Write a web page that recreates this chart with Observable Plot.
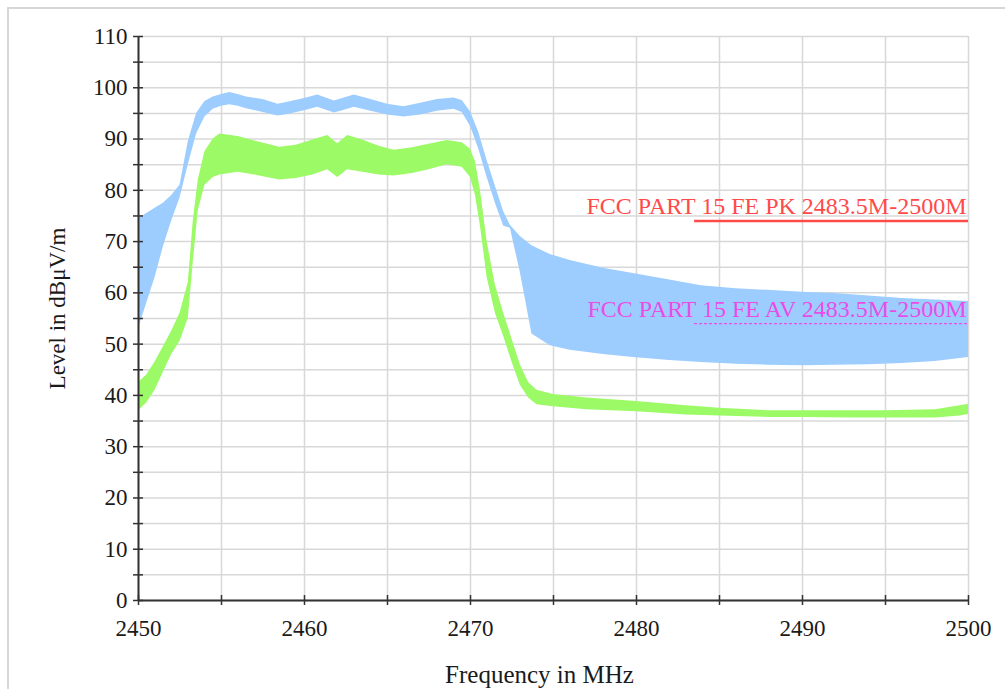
<!DOCTYPE html>
<html>
<head>
<meta charset="utf-8">
<script src="https://cdn.jsdelivr.net/npm/d3@7"></script>
<script src="https://cdn.jsdelivr.net/npm/@observablehq/plot@0.6"></script>
<style>
  html, body { margin: 0; padding: 0; background: #fff; }
  #wrap { position: relative; width: 1005px; height: 689px; overflow: hidden; }
  #frame { position: absolute; left: 7px; top: 7px; width: 1100px; height: 800px;
           border-left: 2px solid #d6d6d6; border-top: 2px solid #d6d6d6; }
  #chart { position: absolute; left: 0; top: 0; }
</style>
</head>
<body>
<div id="wrap"><div id="frame"></div><div id="chart"></div></div>
<script>
// ---- data ----
const xTitle = "Frequency in MHz";
const yTitle = "Level in dBμV/m";
const xTickLabels = [2450, 2460, 2470, 2480, 2490, 2500];
const xTickMarks = [2450, 2455, 2460, 2465, 2470, 2475, 2480, 2485, 2490, 2495, 2500];
const yTickLabels = [0, 10, 20, 30, 40, 50, 60, 70, 80, 90, 100, 110];
const yTickMarks = [0, 5, 10, 15, 20, 25, 30, 35, 40, 45, 50, 55, 60, 65, 70, 75, 80, 85, 90, 95, 100, 105, 110];

// Peak trace (blue) envelope
const pkFreq  = [2450, 2450.5, 2451, 2451.5, 2452, 2452.5, 2453, 2453.5, 2454, 2454.5, 2455, 2455.5, 2456, 2456.5, 2457.5, 2458.4, 2459, 2460, 2460.8, 2461.8, 2462.4, 2463, 2464, 2465, 2466, 2467, 2468, 2469, 2469.5, 2470, 2470.5, 2471, 2471.5, 2472, 2472.4, 2473, 2473.7, 2474.8, 2476, 2478, 2479.8, 2482, 2483.9, 2486, 2487.9, 2490, 2491.9, 2494, 2496, 2498, 2500];
const pkUpper = [74.5, 75.5, 76.5, 77.5, 79, 81, 89.5, 95, 97.3, 98.2, 98.7, 99.1, 98.7, 98.2, 97.7, 96.8, 97.2, 97.9, 98.6, 97.4, 98, 98.6, 97.7, 96.8, 96.3, 97, 97.7, 98, 97.5, 95.3, 91.3, 85.8, 80.8, 75.8, 73.2, 71, 69.2, 67.5, 66.3, 64.8, 63.8, 62.5, 61.4, 60.8, 60.5, 60.1, 59.9, 59.4, 58.9, 58.6, 58.3];
const pkLower = [53, 58, 63, 69, 74, 78.5, 85, 91, 94.3, 95.8, 96.4, 96.7, 96.4, 95.9, 95.2, 94.5, 94.8, 95.5, 96.2, 95.1, 95.6, 96.2, 95.4, 94.7, 94.3, 94.7, 95.4, 95.8, 95.2, 92.5, 88, 82.5, 77.5, 73, 72.6, 64, 52, 49.7, 48.8, 48, 47.4, 46.8, 46.4, 46.1, 45.9, 45.8, 45.9, 46, 46.2, 46.6, 47.4];

// Average trace (green) envelope
const avFreq  = [2450, 2450.5, 2451, 2451.5, 2452, 2452.5, 2453, 2453.3, 2453.6, 2454, 2454.5, 2454.9, 2456, 2457, 2458.5, 2459.5, 2460.5, 2461.4, 2462, 2462.6, 2463.5, 2464.5, 2465.4, 2466.5, 2467.5, 2468.6, 2469.5, 2470, 2470.3, 2470.6, 2471, 2471.5, 2472, 2472.5, 2473, 2473.5, 2474, 2475, 2477, 2480, 2483, 2485, 2488, 2490, 2493, 2495, 2498, 2499.5, 2500];
const avUpper = [42.5, 44, 46.5, 49.5, 52.5, 56, 62, 74, 82, 87.5, 90, 91, 90.5, 89.6, 88.4, 88.8, 89.8, 90.7, 89.1, 90.7, 89.8, 88.6, 87.8, 88.3, 89, 89.7, 89.3, 88, 85.5, 80, 70, 61.5, 56, 51, 46, 42.5, 41, 40.2, 39.5, 38.8, 38, 37.5, 37, 37, 37, 37, 37.2, 38, 38.3];
const avLower = [37, 38.5, 41, 44.5, 48, 50.5, 55, 66, 76, 81, 82.5, 83, 83.5, 83, 82, 82.3, 83, 84, 82.5, 84, 83.5, 83, 82.8, 83.3, 84, 85, 84.5, 82.5, 79, 73, 63, 56, 51.5, 46.5, 42, 39.5, 38.2, 37.8, 37.2, 36.8, 36.2, 36, 35.7, 35.7, 35.6, 35.6, 35.6, 36, 36.3];

// Limit lines
const limitLabels = ["FCC PART 15 FE PK 2483.5M-2500M", "FCC PART 15 FE AV 2483.5M-2500M"];
const limitLevels = [74, 54];
const limitStart = [2483.5, 2483.5];
const limitEnd = [2500, 2500];

// ---- tables ----
const pkData = pkFreq.map((f, i) => ({f, lo: pkLower[i], hi: pkUpper[i]}));
const avData = avFreq.map((f, i) => ({f, lo: avLower[i], hi: avUpper[i]}));
const limits = limitLabels.map((label, i) => ({label, level: limitLevels[i], start: limitStart[i], end: limitEnd[i]}));
const limitColors = ["#ff4a4a", "#ea4cea"];

const chart = Plot.plot({
  width: 1005,
  height: 689,
  marginLeft: 138,
  marginRight: 37,
  marginTop: 36,
  marginBottom: 89,
  style: {fontFamily: "'Liberation Serif', 'Times New Roman', serif", background: "transparent", color: "#1a1a1a"},
  x: {domain: [2450, 2500]},
  y: {domain: [0, 110]},
  marks: [
    Plot.gridX(xTickMarks, {stroke: "#d8d8d8", strokeOpacity: 1, strokeWidth: 1.5}),
    Plot.gridY(yTickMarks, {stroke: "#d8d8d8", strokeOpacity: 1, strokeWidth: 1.5}),
    Plot.areaY(pkData, {x: "f", y1: "lo", y2: "hi", fill: "#9dcdff"}),
    Plot.areaY(avData, {x: "f", y1: "lo", y2: "hi", fill: "#9bfa66"}),
    Plot.ruleY([limits[0]], {y: "level", x1: "start", x2: "end", stroke: limitColors[0], strokeWidth: 2.5}),
    Plot.ruleY([limits[1]], {y: "level", x1: "start", x2: "end", stroke: limitColors[1], strokeWidth: 1.2, strokeDasharray: "3,2"}),
    Plot.text(limits, {x: "end", y: "level", text: "label", textAnchor: "end", lineAnchor: "bottom", dx: -2, dy: -7, fontSize: 24, fill: (d, i) => limitColors[i]}),
    Plot.ruleX([2450], {stroke: "#333", strokeWidth: 2}),
    Plot.ruleY([0], {stroke: "#333", strokeWidth: 2}),
    Plot.axisY(yTickMarks, {tickSize: 10, dx: 5, tickFormat: () => "", stroke: "#333", strokeWidth: 1.5, label: null}),
    Plot.axisY(yTickLabels, {tickSize: 0, tickPadding: 11, fontSize: 23, fill: "#1a1a1a", label: null}),
    Plot.axisX(xTickMarks, {tickSize: 10, dy: -5, tickFormat: () => "", stroke: "#333", strokeWidth: 1.5, label: null}),
    Plot.axisX(xTickLabels, {tickSize: 0, tickPadding: 19, fontSize: 23, tickFormat: d => String(d), fill: "#1a1a1a", label: null}),
    Plot.text([xTitle], {frameAnchor: "bottom", lineAnchor: "bottom", dx: -14, dy: 82, fontSize: 25, fill: "#1a1a1a"}),
    Plot.text([yTitle], {frameAnchor: "left", textAnchor: "middle", rotate: -90, dx: -81, dy: -10, fontSize: 23, fill: "#1a1a1a"})
  ]
});
document.getElementById("chart").appendChild(chart);
</script>
</body>
</html>
